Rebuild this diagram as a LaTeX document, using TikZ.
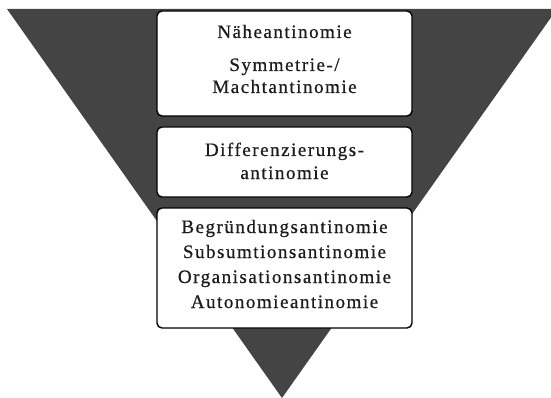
\documentclass[tikz,border=0pt]{standalone}
\usepackage{fontspec}
\newfontfamily\labelfont[LetterSpace=8,FakeBold=0.6]{Liberation Serif}
\definecolor{wedge}{RGB}{68,68,68}
\definecolor{ink}{RGB}{28,28,28}
\begin{document}
\begin{tikzpicture}[x=1pt,y=-1pt,
  level/.style={draw=black, line width=1.4pt, fill=white, rounded corners=5pt,
                inner sep=0pt, minimum width=255pt},
  label/.style={anchor=base, inner sep=0pt, text=ink,
                font=\labelfont\fontsize{19}{19}\selectfont}]
\useasboundingbox (0,0) rectangle (551,398);
% inverted triangle, cut off at the page edge
\begin{scope}
  \clip (0,0) rectangle (551,398);
  \fill[wedge] (7,9) -- (557,9) -- (282,398) -- cycle;
\end{scope}
% the three levels
\node[level, minimum height=105pt] (top) at (284.5,63.5) {};
\node[level, minimum height=70pt]  (mid) at (284.5,162) {};
\node[level, minimum height=120pt] (low) at (284.5,268) {};
% labels
\node[label] (t1) at (284.5,38)  {Näheantinomie};
\node[label] (t2) at (284.5,71)  {Symmetrie-/};
\node[label] (t3) at (284.5,93)  {Machtantinomie};
\node[label] (m1) at (284.5,156) {Differenzierungs-};
\node[label] (m2) at (284.5,179) {antinomie};
\node[label] (l1) at (284.5,233) {Begründungsantinomie};
\node[label] (l2) at (284.5,258) {Subsumtionsantinomie};
\node[label] (l3) at (284.5,283) {Organisationsantinomie};
\node[label] (l4) at (284.5,308) {Autonomieantinomie};
\end{tikzpicture}
\end{document}
